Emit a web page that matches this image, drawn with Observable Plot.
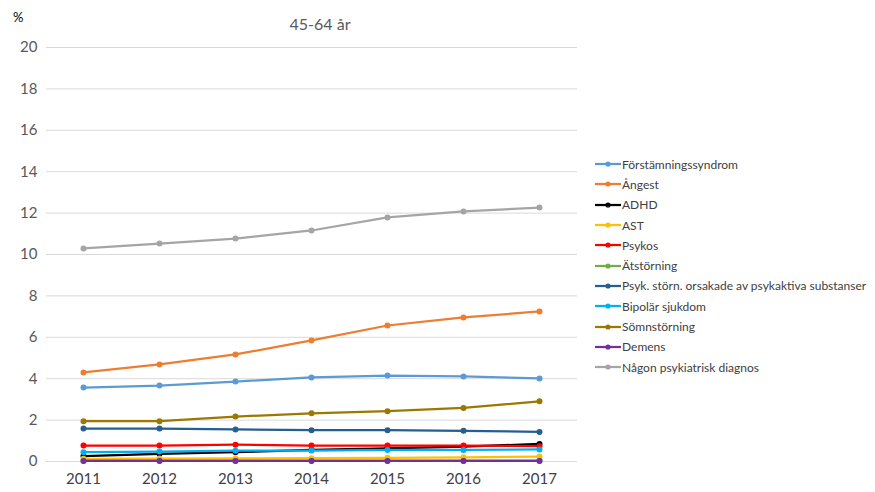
<!DOCTYPE html>
<html>
<head>
<meta charset="utf-8">
<script src="https://cdn.jsdelivr.net/npm/d3@7"></script>
<script src="https://cdn.jsdelivr.net/npm/@observablehq/plot@0.6"></script>
<style>
  body { margin: 0; background: #fff; font-family: Lato, "Open Sans", sans-serif; }
  #wrap { position: relative; width: 875px; height: 492px; }
  #title { position: absolute; left: 0; width: 640px; top: 14px; text-align: center; font-size: 16px; color: #595959; }
  #unit { position: absolute; left: 13px; top: 9px; font-size: 13px; color: #000; }
  #legend { position: absolute; left: 595px; top: 154px; font-size: 12px; color: #404040; }
  .item { height: 20.3px; display: flex; align-items: center; white-space: nowrap; }
  .item svg { margin-right: 1px; }
</style>
</head>
<body>
<div id="wrap">
  <div id="chart"></div>
  <div id="title">45-64 år</div>
  <div id="unit">%</div>
  <div id="legend"></div>
</div>
<script>
const years = [2011, 2012, 2013, 2014, 2015, 2016, 2017];

const diagnoses = [
  "Förstämningssyndrom",
  "Ångest",
  "ADHD",
  "AST",
  "Psykos",
  "Ätstörning",
  "Psyk. störn. orsakade av psykaktiva substanser",
  "Bipolär sjukdom",
  "Sömnstörning",
  "Demens",
  "Någon psykiatrisk diagnos"
];

const colors = [
  "#5B9BD5", "#ED7D31", "#000000", "#FFC000", "#FF0000", "#70AD47",
  "#255E91", "#00B0F0", "#9C7800", "#7030A0", "#A5A5A5"
];

// Share of the population (%) per year, one array per diagnosis
const forstamning = [3.57, 3.67, 3.86, 4.06, 4.15, 4.11, 4.01];
const angest      = [4.30, 4.69, 5.17, 5.85, 6.57, 6.96, 7.25];
const adhd        = [0.26, 0.37, 0.45, 0.56, 0.64, 0.72, 0.85];
const ast         = [0.13, 0.14, 0.15, 0.16, 0.18, 0.20, 0.24];
const psykos      = [0.77, 0.77, 0.81, 0.77, 0.77, 0.77, 0.74];
const atstorning  = [0.04, 0.04, 0.04, 0.04, 0.04, 0.04, 0.04];
const substanser  = [1.59, 1.59, 1.55, 1.51, 1.51, 1.48, 1.43];
const bipolar     = [0.45, 0.48, 0.52, 0.53, 0.56, 0.56, 0.58];
const somn        = [1.95, 1.95, 2.17, 2.33, 2.43, 2.59, 2.91];
const demens      = [0.03, 0.03, 0.03, 0.03, 0.03, 0.03, 0.03];
const nagon       = [10.29, 10.53, 10.77, 11.16, 11.79, 12.08, 12.27];

const yTicks = [0, 2, 4, 6, 8, 10, 12, 14, 16, 18, 20];

const seriesValues = [forstamning, angest, adhd, ast, psykos, atstorning,
  substanser, bipolar, somn, demens, nagon];

const rows = diagnoses.flatMap((name, i) =>
  years.map((year, j) => ({diagnos: name, year, value: seriesValues[i][j]}))
);

const font = "Lato, 'Open Sans', sans-serif";

const chart = Plot.plot({
  width: 875,
  height: 492,
  marginLeft: 46,
  marginRight: 298,
  marginTop: 47,
  marginBottom: 31,
  style: {fontFamily: font, background: "transparent", overflow: "visible"},
  x: {type: "point", domain: years, range: [82, 540], padding: 0, label: null},
  y: {domain: [0, 20], label: null},
  color: {domain: diagnoses, range: colors},
  marks: [
    Plot.gridY(yTicks, {stroke: "#d9d9d9", strokeOpacity: 1, strokeWidth: 1}),
    Plot.axisY(yTicks, {tickSize: 0, tickPadding: 9, fontSize: 15, fill: "#595959", label: null}),
    Plot.axisX(years, {tickSize: 0, tickPadding: 12, fontSize: 15, fill: "#404040", label: null, tickFormat: d => String(d)}),
    ...diagnoses.flatMap(name => {
      const subset = rows.filter(d => d.diagnos === name);
      return [
        Plot.line(subset, {x: "year", y: "value", stroke: "diagnos", strokeWidth: 2.25}),
        Plot.dot(subset, {x: "year", y: "value", fill: "diagnos", r: 3})
      ];
    })
  ]
});
document.getElementById("chart").appendChild(chart);

// Legend entries: a short line with a dot in its middle, then the diagnosis name
const legend = d3.select("#legend");
diagnoses.forEach((name, i) => {
  const item = legend.append("div").attr("class", "item");
  const sw = item.append("svg").attr("width", 26).attr("height", 8);
  sw.append("line").attr("x1", 0).attr("x2", 26).attr("y1", 4).attr("y2", 4)
    .attr("stroke", colors[i]).attr("stroke-width", 2.25);
  sw.append("circle").attr("cx", 13).attr("cy", 4).attr("r", 2.6).attr("fill", colors[i]);
  item.append("span").text(name);
});
</script>
</body>
</html>
